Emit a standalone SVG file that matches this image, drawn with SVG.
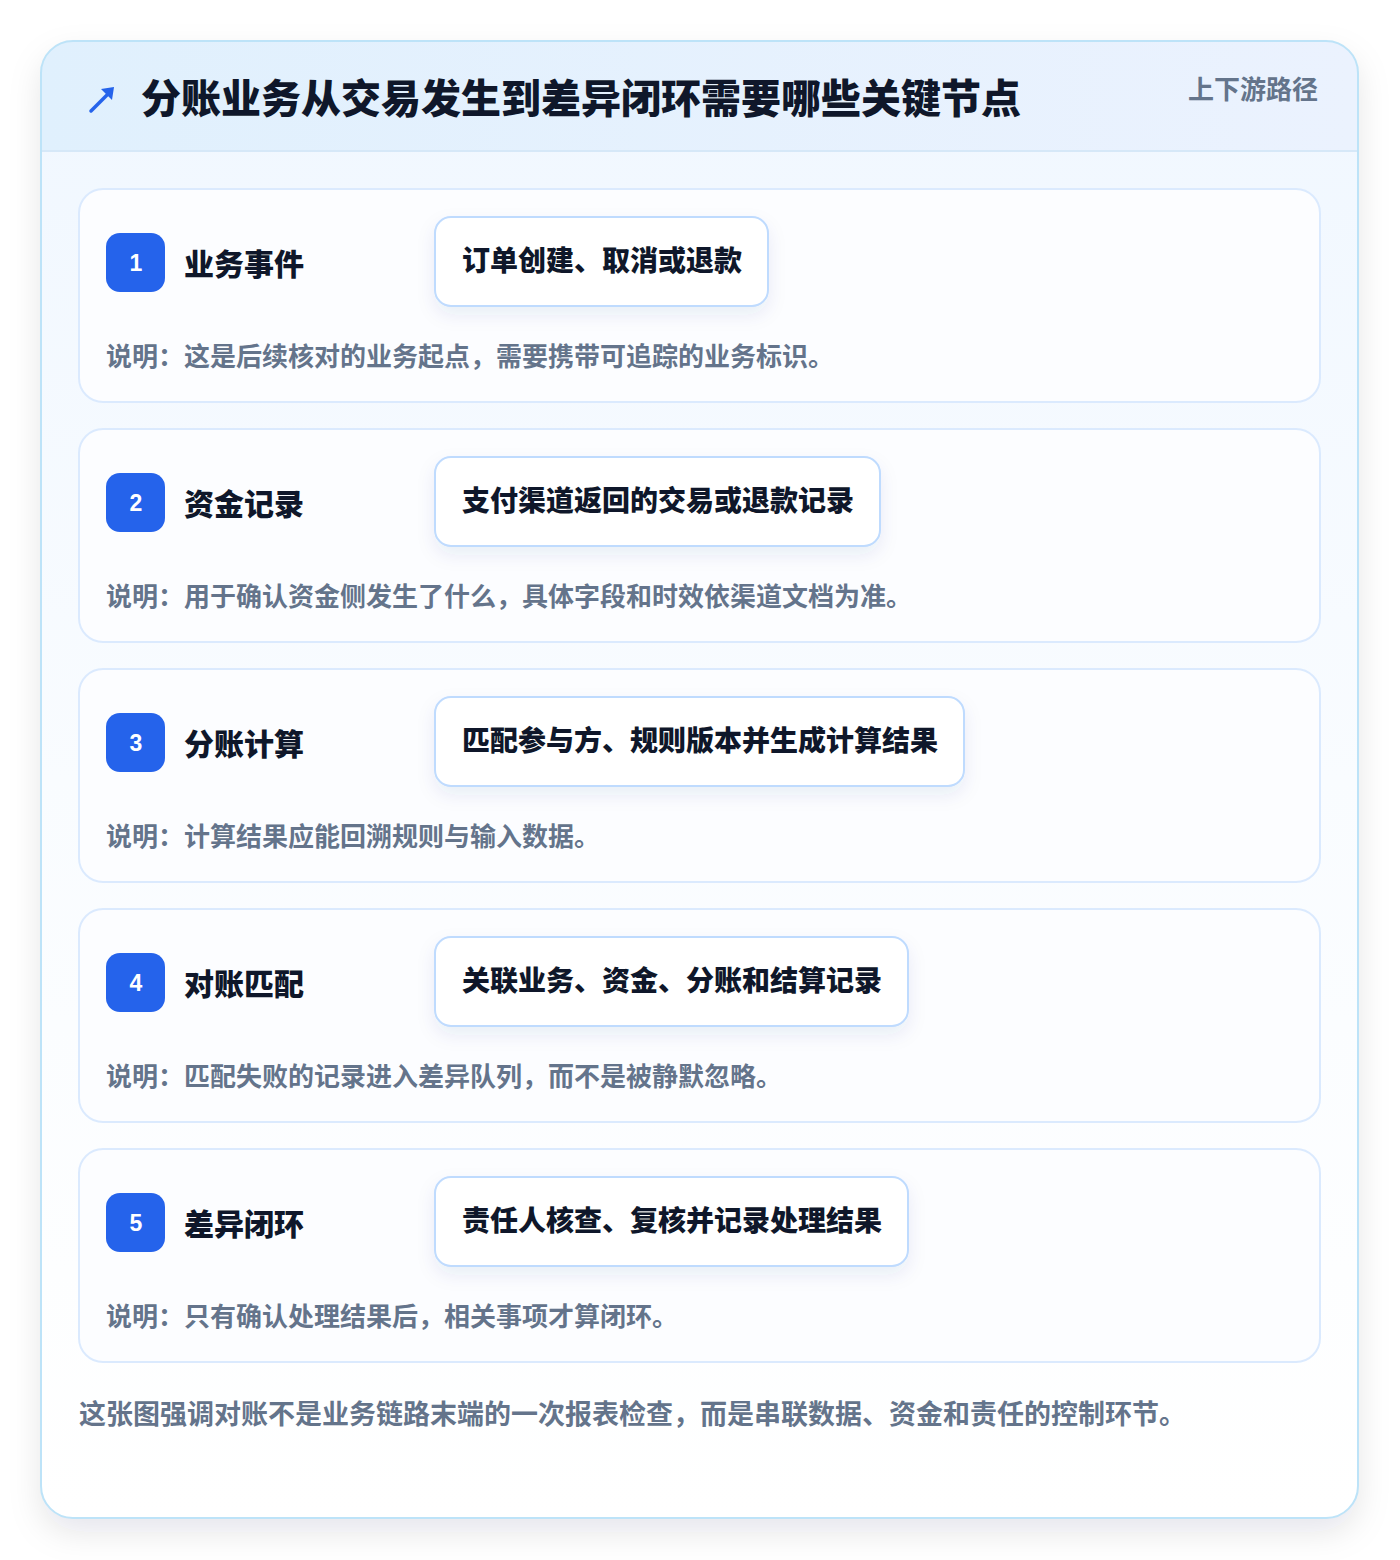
<svg xmlns="http://www.w3.org/2000/svg" width="1400" height="1560" viewBox="0 0 1400 1560">
<defs>
<linearGradient id="hdr" x1="0" y1="0" x2="1" y2="0"><stop offset="0" stop-color="#e0f0fd"/><stop offset="1" stop-color="#ebf2fe"/></linearGradient>
<linearGradient id="body" x1="0" y1="0" x2="0" y2="1"><stop offset="0" stop-color="#f0f7ff"/><stop offset="0.5" stop-color="#f9fcff"/><stop offset="1" stop-color="#ffffff"/></linearGradient>
<filter id="sh" x="-10%" y="-10%" width="120%" height="125%"><feDropShadow dx="0" dy="14" stdDeviation="16" flood-color="#0f172a" flood-opacity="0.10"/></filter>
<filter id="psh" x="-20%" y="-30%" width="140%" height="180%"><feDropShadow dx="0" dy="8" stdDeviation="9" flood-color="#1e3a8a" flood-opacity="0.08"/></filter>
<clipPath id="outerClip"><rect x="41" y="41" width="1317" height="1477" rx="32"/></clipPath>
</defs>
<style>
.card{fill:#fcfdff;stroke:#dbeafe;stroke-width:2}
.badge{fill:#2563eb}
.num{font-family:"Liberation Sans","Noto Sans CJK SC",sans-serif;font-weight:700;font-size:23px;fill:#ffffff;text-anchor:middle}
.ttl{font-family:"Noto Sans CJK SC",sans-serif;font-weight:900;font-size:30px;fill:#0f172a}
.pill{fill:#ffffff;stroke:#bfdbfe;stroke-width:2}
.ptxt{font-family:"Noto Sans CJK SC",sans-serif;font-weight:900;font-size:28px;fill:#0f172a}
.desc{font-family:"Noto Sans CJK SC",sans-serif;font-weight:700;font-size:26px;fill:#64748b}
</style>
<rect width="1400" height="1560" fill="#ffffff"/>
<g id="frame">
<rect x="41" y="41" width="1317" height="1477" rx="32" fill="url(#body)" filter="url(#sh)"/>
<g clip-path="url(#outerClip)">
<rect x="41" y="41" width="1317" height="110" fill="url(#hdr)"/>
<line x1="41" y1="151" x2="1358" y2="151" stroke="#d6e8f8" stroke-width="2"/>
</g>
<rect x="41" y="41" width="1317" height="1477" rx="32" fill="none" stroke="#bde3f8" stroke-width="2"/>
</g>
<g id="header">
<path d="M91 111 L109 93" stroke="#2563eb" stroke-width="3.5" stroke-linecap="round" fill="none"/>
<path d="M101 89 L114 87 L112 100 Z" fill="#2563eb"/>
<text x="141" y="113" font-family="Noto Sans CJK SC,sans-serif" font-weight="900" font-size="40" fill="#0f172a">分账业务从交易发生到差异闭环需要哪些关键节点</text>
<text x="1318" y="99" text-anchor="end" font-family="Noto Sans CJK SC,sans-serif" font-weight="700" font-size="26" fill="#64748b">上下游路径</text>
</g>
<g id="step1">
<rect class="card" x="79" y="189" width="1241" height="213" rx="24"/>
<rect class="badge" x="106" y="233" width="59" height="59" rx="14"/>
<text class="num" x="136" y="271">1</text>
<text class="ttl" x="184" y="275">业务事件</text>
<rect class="pill" x="435" y="217" width="333" height="89" rx="16" filter="url(#psh)"/>
<text class="ptxt" x="462" y="271">订单创建、取消或退款</text>
<text class="desc" x="106" y="366">说明：这是后续核对的业务起点，需要携带可追踪的业务标识。</text>
</g>
<g id="step2">
<rect class="card" x="79" y="429" width="1241" height="213" rx="24"/>
<rect class="badge" x="106" y="473" width="59" height="59" rx="14"/>
<text class="num" x="136" y="511">2</text>
<text class="ttl" x="184" y="515">资金记录</text>
<rect class="pill" x="435" y="457" width="445" height="89" rx="16" filter="url(#psh)"/>
<text class="ptxt" x="462" y="511">支付渠道返回的交易或退款记录</text>
<text class="desc" x="106" y="606">说明：用于确认资金侧发生了什么，具体字段和时效依渠道文档为准。</text>
</g>
<g id="step3">
<rect class="card" x="79" y="669" width="1241" height="213" rx="24"/>
<rect class="badge" x="106" y="713" width="59" height="59" rx="14"/>
<text class="num" x="136" y="751">3</text>
<text class="ttl" x="184" y="755">分账计算</text>
<rect class="pill" x="435" y="697" width="529" height="89" rx="16" filter="url(#psh)"/>
<text class="ptxt" x="462" y="751">匹配参与方、规则版本并生成计算结果</text>
<text class="desc" x="106" y="846">说明：计算结果应能回溯规则与输入数据。</text>
</g>
<g id="step4">
<rect class="card" x="79" y="909" width="1241" height="213" rx="24"/>
<rect class="badge" x="106" y="953" width="59" height="59" rx="14"/>
<text class="num" x="136" y="991">4</text>
<text class="ttl" x="184" y="995">对账匹配</text>
<rect class="pill" x="435" y="937" width="473" height="89" rx="16" filter="url(#psh)"/>
<text class="ptxt" x="462" y="991">关联业务、资金、分账和结算记录</text>
<text class="desc" x="106" y="1086">说明：匹配失败的记录进入差异队列，而不是被静默忽略。</text>
</g>
<g id="step5">
<rect class="card" x="79" y="1149" width="1241" height="213" rx="24"/>
<rect class="badge" x="106" y="1193" width="59" height="59" rx="14"/>
<text class="num" x="136" y="1231">5</text>
<text class="ttl" x="184" y="1235">差异闭环</text>
<rect class="pill" x="435" y="1177" width="473" height="89" rx="16" filter="url(#psh)"/>
<text class="ptxt" x="462" y="1231">责任人核查、复核并记录处理结果</text>
<text class="desc" x="106" y="1326">说明：只有确认处理结果后，相关事项才算闭环。</text>
</g>
<g id="connectors"></g>
<g id="footer">
<text x="79" y="1424" font-family="Noto Sans CJK SC,sans-serif" font-weight="700" font-size="27" fill="#64748b">这张图强调对账不是业务链路末端的一次报表检查，而是串联数据、资金和责任的控制环节。</text>
</g>
</svg>
